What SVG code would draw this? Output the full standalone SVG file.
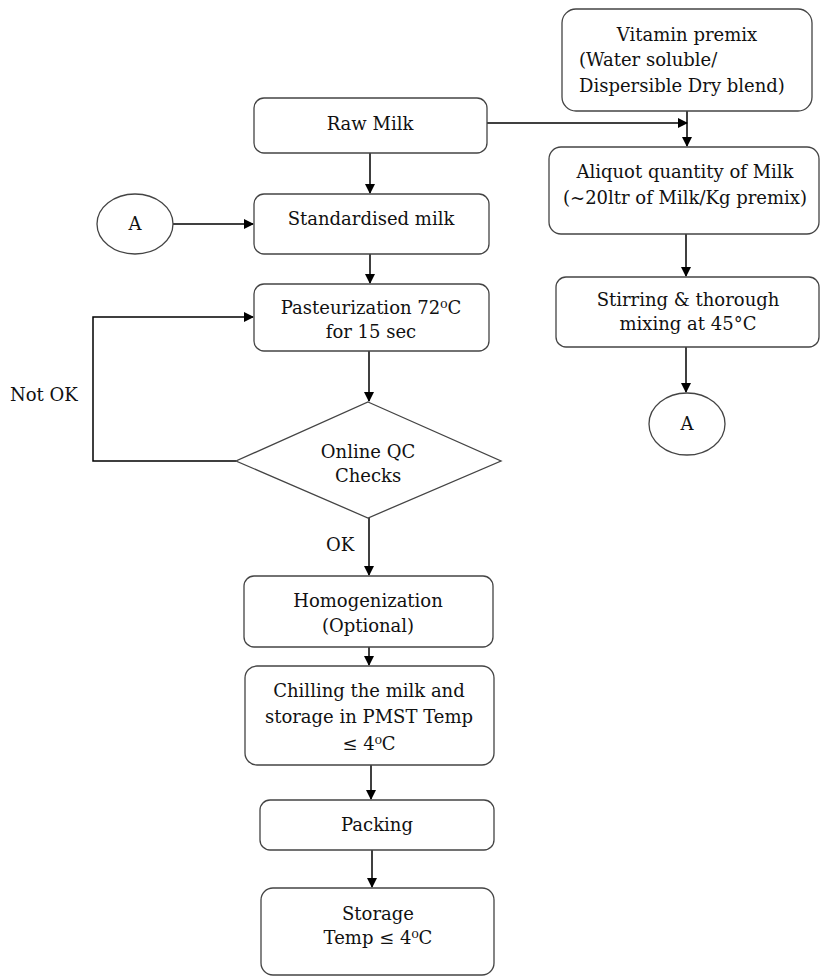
<svg xmlns="http://www.w3.org/2000/svg" width="820" height="976" viewBox="0 0 820 976">
<defs>
<marker id="ah" markerWidth="10" markerHeight="10" refX="9" refY="5" orient="auto" markerUnits="userSpaceOnUse">
<path d="M0,0 L10,5 L0,10 z" fill="#000"/>
</marker>
<style>
.box{fill:#fff;stroke:#444;stroke-width:1.3}
.t{font-family:"DejaVu Serif","Liberation Serif",serif;font-size:18px;fill:#111;text-anchor:middle}
.tl{font-family:"DejaVu Serif","Liberation Serif",serif;font-size:18px;fill:#111}
.c{fill:none;stroke:#000;stroke-width:1.5}
</style>
</defs>
<rect width="820" height="976" fill="#fff"/>
<g id="connectors">
<path class="c" d="M370,153 V193" marker-end="url(#ah)"/>
<path class="c" d="M173,224 H253" marker-end="url(#ah)"/>
<path class="c" d="M370,254 V283" marker-end="url(#ah)"/>
<path class="c" d="M369,351 V401" marker-end="url(#ah)"/>
<path class="c" d="M236,461 H93 V317 H253" marker-end="url(#ah)"/>
<path class="c" d="M369,518 V575" marker-end="url(#ah)"/>
<path class="c" d="M369,647 V665" marker-end="url(#ah)"/>
<path class="c" d="M371,765 V799" marker-end="url(#ah)"/>
<path class="c" d="M372,850 V887" marker-end="url(#ah)"/>
<path class="c" d="M487,123 H687" marker-end="url(#ah)"/>
<path class="c" d="M687,111 V146" marker-end="url(#ah)"/>
<path class="c" d="M686,234 V276" marker-end="url(#ah)"/>
<path class="c" d="M686,347 V392" marker-end="url(#ah)"/>
</g>
<g id="raw-milk"><rect class="box" x="254" y="98" width="233" height="55" rx="10"/><text class="t" x="370" y="130">Raw Milk</text></g>
<g id="standardised"><rect class="box" x="254" y="194" width="235" height="60" rx="10"/><text class="t" x="371" y="225">Standardised milk</text></g>
<g id="connector-a-left"><ellipse class="box" cx="135" cy="224" rx="38" ry="30"/><text class="t" x="135" y="230">A</text></g>
<g id="pasteurization"><rect class="box" x="254" y="284" width="235" height="67" rx="10"/><text class="t" x="371" y="314">Pasteurization 72⁰C</text><text class="t" x="371" y="338">for 15 sec</text></g>
<g id="qc"><polygon class="box" points="368,402 501,461 368,518 236,461"/><text class="t" x="368" y="458">Online QC</text><text class="t" x="368" y="482">Checks</text></g>
<g id="label-notok"><text class="tl" x="10" y="401">Not OK</text></g>
<g id="label-ok"><text class="tl" x="326" y="551">OK</text></g>
<g id="homogenization"><rect class="box" x="244" y="576" width="249" height="71" rx="10"/><text class="t" x="368" y="607">Homogenization</text><text class="t" x="368" y="632">(Optional)</text></g>
<g id="chilling"><rect class="box" x="245" y="666" width="249" height="99" rx="12"/><text class="t" x="369" y="697">Chilling the milk and</text><text class="t" x="369" y="723">storage in PMST Temp</text><text class="t" x="369" y="750">≤ 4⁰C</text></g>
<g id="packing"><rect class="box" x="260" y="800" width="234" height="50" rx="10"/><text class="t" x="377" y="831">Packing</text></g>
<g id="storage"><rect class="box" x="261" y="888" width="233" height="87" rx="12"/><text class="t" x="378" y="920">Storage</text><text class="t" x="378" y="944">Temp ≤ 4⁰C</text></g>
<g id="vitamin"><rect class="box" x="562" y="9" width="250" height="102" rx="14"/><text class="t" x="687" y="41">Vitamin premix</text><text class="tl" x="579" y="66">(Water soluble/</text><text class="tl" x="579" y="92">Dispersible Dry blend)</text></g>
<g id="aliquot"><rect class="box" x="549" y="147" width="270" height="87" rx="12"/><text class="t" x="685" y="178">Aliquot quantity of Milk</text><text class="t" x="685" y="204">(~20ltr of Milk/Kg premix)</text></g>
<g id="stirring"><rect class="box" x="556" y="277" width="263" height="70" rx="10"/><text class="t" x="688" y="306">Stirring &amp; thorough</text><text class="t" x="688" y="330">mixing at 45°C</text></g>
<g id="connector-a-right"><ellipse class="box" cx="687" cy="424" rx="38" ry="31"/><text class="t" x="687" y="430">A</text></g>
</svg>
